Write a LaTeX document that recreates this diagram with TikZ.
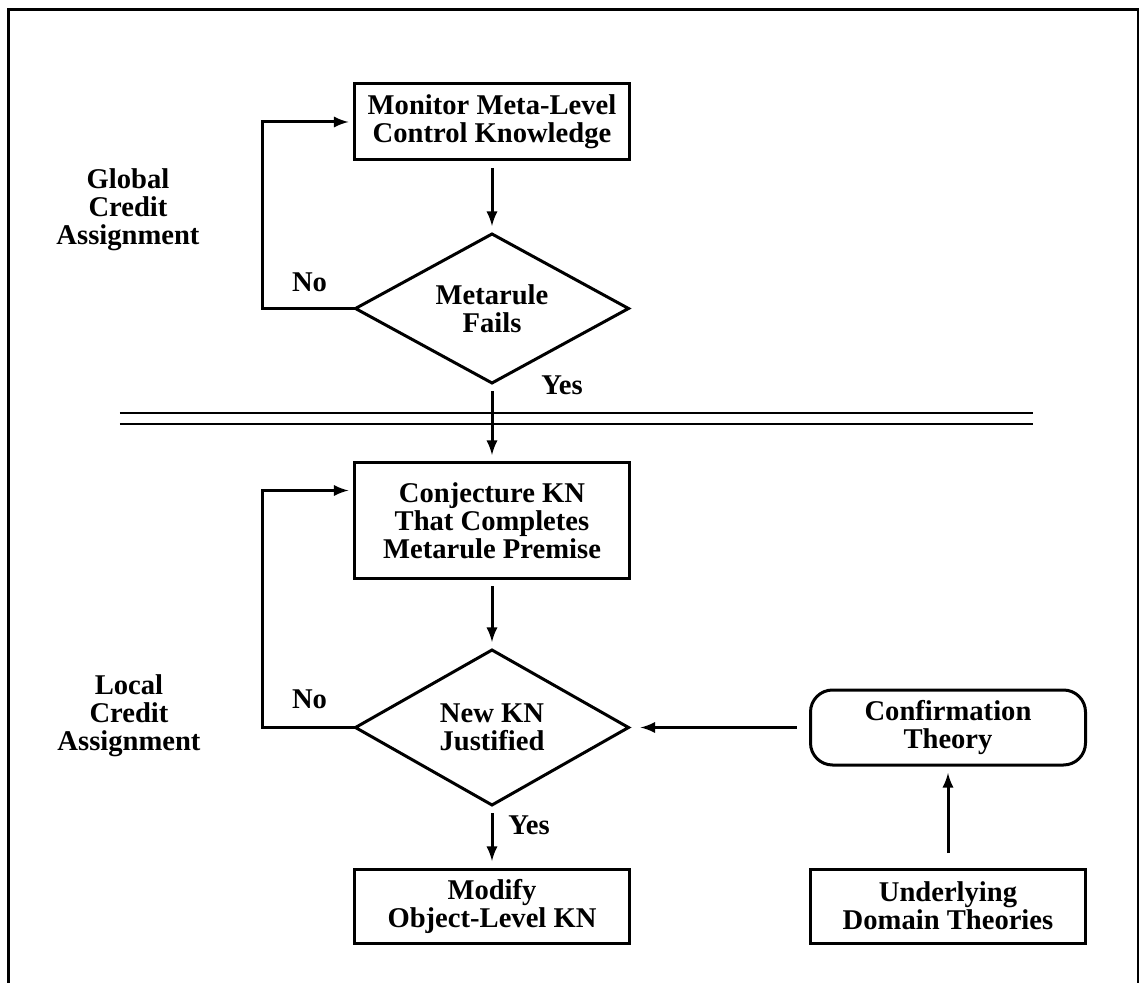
\documentclass[tikz,border=0pt]{standalone}
\usepackage{fontspec}
\setmainfont{Liberation Serif}
\usetikzlibrary{positioning}
\usetikzlibrary{calc,shapes.geometric}

\begin{document}
\begin{tikzpicture}[node distance=2cm, line width=1.5pt,
    font=\fontsize{14.3pt}{14pt}\selectfont\bfseries,
    box/.style={draw, rectangle, align=center, minimum width=137.5pt, inner sep=0pt, outer sep=0pt},
    soft/.style={box, rounded corners=11pt},
    decide/.style={draw, diamond, aspect=2, align=center, minimum width=136.5pt, minimum height=74.5pt, inner sep=0pt, outer sep=0pt},
    lbl/.style={align=center},
    flow/.style={-latex, shorten <=4pt, shorten >=4pt}]
    \useasboundingbox (-246pt,61pt) rectangle (323.5pt,-430.5pt);

    \node[box, minimum height=38pt] (mon) at (0,0) {Monitor Meta-Level\\Control Knowledge};
    \node[decide] (fail) [below=37pt of mon] {Metarule\\Fails};
    \node[box, minimum height=57.5pt] (conj) [below=40pt of fail] {Conjecture KN\\That Completes\\Metarule Premise};
    \node[decide, minimum height=77.5pt] (just) [below=36pt of conj] {New KN\\Justified};
    \node[box, minimum height=37pt] (mod) [below=32pt of just] {Modify\\Object-Level KN};
    \node[soft, minimum height=37.5pt] (conf) [right=91pt of just] {Confirmation\\Theory};
    \node[box, minimum height=37pt] (und) [below=52pt of conf] {Underlying\\Domain Theories};

    \node[lbl] (glob) at (-182pt,-44pt) {Global\\Credit\\Assignment};
    \node[lbl] (loc) at (-181.5pt,-297pt) {Local\\Credit\\Assignment};
    \node (no1) at ($(fail.west)+(-23pt,13pt)$) {No};
    \node (no2) at ($(just.west)+(-23pt,14pt)$) {No};
    \node (yes1) at ($(fail.south)+(35pt,-1pt)$) {Yes};
    \node (yes2) at ($(just.south)+(18.5pt,-10pt)$) {Yes};

    % frame and the border between the two levels
    \draw (-241.5pt,-440pt) -- (-241.5pt,56pt) -- (323pt,56pt) -- (323pt,-440pt);
    \draw[line width=1pt] (-186pt,-145.5pt) -- (270.5pt,-145.5pt);
    \draw[line width=1pt] (-186pt,-151pt) -- (270.5pt,-151pt);

    \draw[flow](mon) -- (fail);
    \draw[flow](fail) -- (conj);
    \draw[flow](conj) -- (just);
    \draw[flow](just) -- (mod);
    \draw[flow, shorten <=8pt](und) -- (conf);
    \draw[flow, shorten <=7pt, shorten >=6pt](conf) -- (just);
    \draw[-latex, shorten >=3pt](fail.west) -- ++(-46.5pt,0) |- (mon.west);
    \draw[-latex, shorten >=3pt](just.west) -- ++(-46.5pt,0) |- ([yshift=15pt]conj.west);
\end{tikzpicture}
\end{document}
